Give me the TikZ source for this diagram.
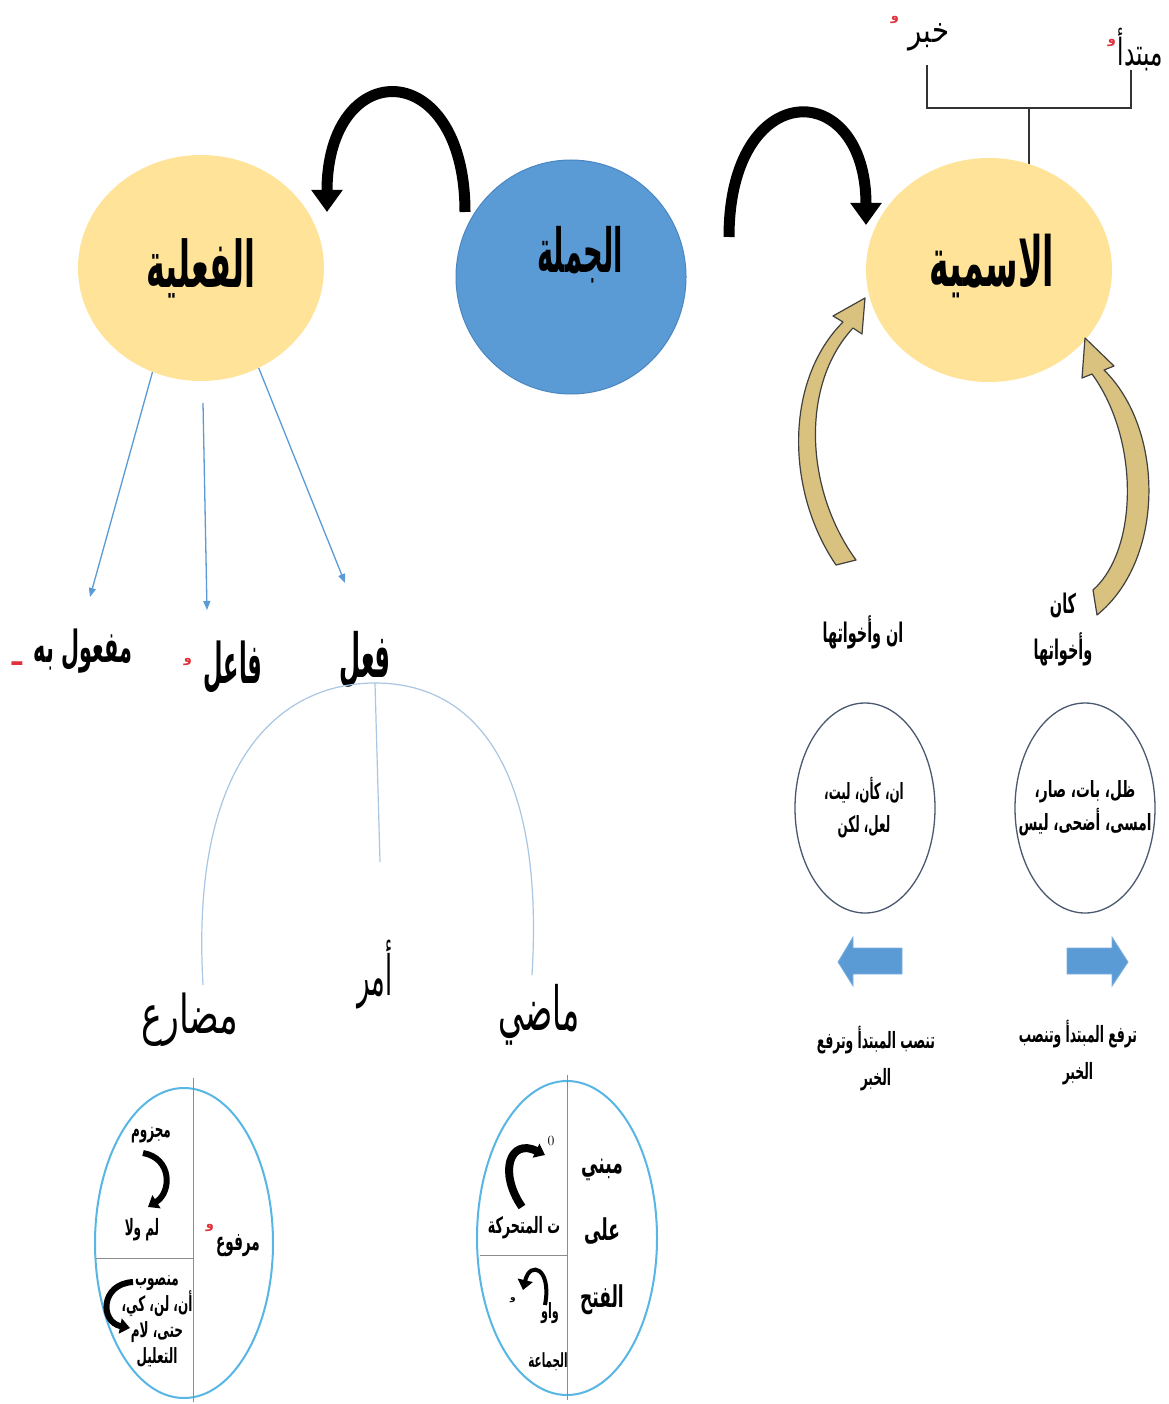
\documentclass[tikz,border=0pt]{standalone}
\usepackage{fontspec}
\usepackage{graphicx}
\usetikzlibrary{arrows.meta,shapes.geometric}
\newfontfamily\arabicfont[Script=Arabic]{DejaVu Sans}
\TeXXeTstate=1
\newcommand{\SQ}[3]{\scalebox{#1}[#2]{#3}}
\definecolor{yellowc}{HTML}{FEE398}
\definecolor{bluec}{HTML}{5B9BD5}
\definecolor{bluedark}{HTML}{4A86C2}
\definecolor{khaki}{HTML}{D9C27F}
\definecolor{treec}{HTML}{A9C6E2}
\definecolor{slatec}{HTML}{4A5870}
\definecolor{skyc}{HTML}{58B6E4}
\definecolor{redm}{HTML}{E0303A}
\tikzset{
  lbl/.style={inner sep=0pt, align=center, text=black},
  fhuge/.style={lbl, font=\arabicfont\bfseries\fontsize{46}{52}\selectfont},
  fbig/.style={lbl, font=\arabicfont\bfseries\fontsize{38}{44}\selectfont},
  fmid/.style={lbl, font=\arabicfont\fontsize{32}{38}\selectfont},
  fsm/.style={lbl, font=\arabicfont\fontsize{22}{26}\selectfont},
  fside/.style={lbl, font=\arabicfont\bfseries\fontsize{18}{46}\selectfont},
  fcirc/.style={lbl, font=\arabicfont\bfseries\fontsize{14}{33}\selectfont},
  fnote/.style={lbl, font=\arabicfont\bfseries\fontsize{15}{37}\selectfont},
  ftiny/.style={lbl, font=\arabicfont\bfseries\fontsize{15}{26}\selectfont},
  fmab/.style={lbl, font=\arabicfont\bfseries\fontsize{20}{67}\selectfont},
  redmark/.style={lbl, text=redm, font=\arabicfont\bfseries\fontsize{13}{14}\selectfont},
  blob/.style={ellipse, inner sep=0pt},
  bigarrow/.style={line width=11pt, -{Triangle[width=30pt,length=22pt]}},
  thinarrow/.style={draw=bluec, line width=1.3pt, -{Triangle[width=7pt,length=9pt]}},
  treeline/.style={draw=treec, line width=1.2pt},
  smallarrow/.style={line width=6pt, -{Triangle[width=15pt,length=10pt]}},
  khakiarrow/.style={fill=khaki, draw=black!75, line width=1.2pt, line join=round},
  blockarrow/.style={fill=bluec, draw=bluec!80!white, line width=0.8pt},
  brace/.style={draw=black!80, line width=2pt},
  divider/.style={draw=black!45, line width=1pt},
}
\begin{document}
\begin{tikzpicture}[x=1pt,y=-1pt]
\useasboundingbox (0,0) rectangle (1168,1404);
\fill[white] (0,0) rectangle (1168,1404);

% brace over the nominal sentence
\coordinate (bL) at (927,65);
\coordinate (bLd) at (927,108);
\coordinate (bR) at (1131,70);
\coordinate (bRd) at (1131,108);
\coordinate (bM) at (1029,108);
\coordinate (bS) at (1029,170);
\draw[brace] (bR) -- (bRd) -- (bLd) -- (bL);
\draw[brace] (bM) -- (bS);

% main ellipses
\node[blob, fill=yellowc, minimum width=246pt, minimum height=226pt] (fil) at (201,268) {};
\node[blob, fill=bluec, draw=bluedark, line width=1pt, minimum width=230pt, minimum height=234pt] (jum) at (571,277) {};
\node[blob, fill=yellowc, minimum width=246pt, minimum height=224pt] (ism) at (989,270) {};

\node[fhuge] (tfil) at (201,268) {\SQ{0.69}{1.4}{\beginR الفعلية\endR}};
\node[fbig] (tjum) at (580,255) {\SQ{0.72}{1.6}{\beginR الجملة\endR}};
\node[fhuge] (tism) at (992,266) {\SQ{0.72}{1.5}{\beginR الاسمية\endR}};

\node[fsm] (tmub) at (1140,50) {\SQ{1.05}{1.7}{\beginR مبتدأ\endR}};
\node[fsm] (tkhb) at (929,37) {\SQ{1.25}{1.6}{\beginR خبر\endR}};
\node[redmark] (rm1) at (1112,43) {\beginR و\endR};
\node[redmark] (rm2) at (895,20) {\beginR و\endR};

% big black arrows
\coordinate (a1s) at (465,212);
\coordinate (a1e) at (327,212);
\coordinate (a2s) at (729,237);
\coordinate (a2e) at (866,225);
\draw[bigarrow] (a1s) .. controls (465,55) and (327,55) .. (a1e);
\draw[bigarrow] (a2s) .. controls (729,76) and (866,76) .. (a2e);

% labels under the verbal sentence
\node[lbl, font=\arabicfont\bfseries\fontsize{26}{30}\selectfont] (tmaf) at (83,651) {\SQ{0.8}{1.7}{\beginR مفعول به\endR}};
\node[redmark, font=\arabicfont\bfseries\fontsize{30}{30}\selectfont] (rm3) at (17,664) {\beginR ـ\endR};
\node[lbl, font=\arabicfont\bfseries\fontsize{33}{38}\selectfont] (tfa) at (233,667) {\SQ{0.68}{1.7}{\beginR فاعل\endR}};
\node[redmark] (rm4) at (188,662) {\beginR و\endR};
\node[fbig] (tfl) at (365,660) {\SQ{0.64}{1.6}{\beginR فعل\endR}};

\coordinate (e1) at (90,597);
\coordinate (e2) at (207,610);
\coordinate (e3) at (345,583);
\coordinate (s2) at (203,403);
\draw[thinarrow] (fil.245) -- (e1);
\draw[thinarrow] (s2) -- (e2);
\draw[thinarrow] (fil.300) -- (e3);

% tree of the verb
\coordinate (tl) at (203,985);
\coordinate (tt) at (375,683);
\coordinate (tr) at (532,975);
\coordinate (tm) at (380,862);
\draw[treeline] (tl) .. controls (190,760) and (280,683) .. (tt) .. controls (470,683) and (545,760) .. (tr);
\draw[treeline] (tt) -- (tm);

\node[fmid] (tmud) at (190,1020) {\SQ{1.09}{1.67}{\beginR مضارع\endR}};
\node[lbl, font=\arabicfont\fontsize{30}{34}\selectfont] (tamr) at (375,975) {\SQ{0.85}{1.85}{\beginR أمر\endR}};
\node[fmid] (tmad) at (539,1015) {\SQ{1.0}{1.9}{\beginR ماضي\endR}};

% khaki curved arrows
\path[khakiarrow] (836,565) .. controls (785,490) and (785,380) .. (843,322) -- (833,316) -- (865,298) -- (862,334) -- (853,328) .. controls (800,385) and (805,490) .. (856,560) -- cycle;
\path[khakiarrow] (1104,370) .. controls (1165,430) and (1165,560) .. (1097,615) -- (1093,590) .. controls (1138,550) and (1140,440) .. (1092,374) -- (1082,378) -- (1085,338) -- (1114,366) -- cycle;

\node[fside] (tinn) at (863,632) {\SQ{0.8}{1.5}{\beginR ان وأخواتها\endR}};
\node[fside] (tkan) at (1063,630) {\SQ{0.8}{1.5}{\beginR كان\endR}\\\SQ{0.8}{1.5}{\beginR وأخواتها\endR}};

% circles on the right
\node[blob, draw=slatec, line width=1.3pt, minimum width=140pt, minimum height=210pt] (cinn) at (865,808) {};
\node[blob, draw=slatec, line width=1.3pt, minimum width=140pt, minimum height=210pt] (ckan) at (1085,808) {};
\node[fcirc] (tcinn) at (864,808) {\SQ{0.85}{1.6}{\beginR ان، كأن، ليت،\endR}\\\SQ{0.85}{1.6}{\beginR لعل، لكن\endR}};
\node[fcirc] (tckan) at (1085,808) {\SQ{0.98}{1.6}{\beginR ظل، بات، صار،\endR}\\\SQ{0.98}{1.6}{\beginR امسى، أضحى، ليس\endR}};

% blue block arrows
\path[blockarrow] (838,962) -- (853,937) -- (853,948) -- (902,948) -- (902,974) -- (853,974) -- (853,986) -- cycle;
\path[blockarrow] (1128,962) -- (1112,937) -- (1112,948) -- (1067,948) -- (1067,974) -- (1112,974) -- (1112,986) -- cycle;

\node[fnote] (tnsb) at (876,1059) {\SQ{0.82}{1.5}{\beginR تنصب المبتدأ وترفع\endR}\\\SQ{0.82}{1.5}{\beginR الخبر\endR}};
\node[fnote] (trfa) at (1078,1053) {\SQ{0.82}{1.5}{\beginR ترفع المبتدأ وتنصب\endR}\\\SQ{0.82}{1.5}{\beginR الخبر\endR}};

% present tense circle
\node[blob, draw=skyc, line width=2pt, minimum width=178pt, minimum height=310pt] (cmud) at (184,1243) {};
\coordinate (mv1) at (193,1078);
\coordinate (mv2) at (193,1402);
\coordinate (mh1) at (96,1258);
\coordinate (mh2) at (193,1258);
\draw[divider] (mv1) -- (mv2);
\draw[divider] (mh1) -- (mh2);
\node[ftiny] (tmaj) at (151,1135) {\SQ{0.8}{1.5}{\beginR مجزوم\endR}};
\coordinate (sa1) at (143,1153);
\coordinate (sa1e) at (148,1207);
\draw[smallarrow] (sa1) .. controls (172,1158) and (172,1192) .. (sa1e);
\node[ftiny] (tlam) at (142,1230) {\SQ{0.8}{1.5}{\beginR لم ولا\endR}};
\node[lbl, font=\arabicfont\bfseries\fontsize{17}{20}\selectfont] (tmarf) at (238,1246) {\SQ{0.8}{1.5}{\beginR مرفوع\endR}};
\node[redmark] (rm5) at (210,1228) {\beginR و\endR};
\node[ftiny] (tmans) at (157,1321) {\SQ{0.8}{1.4}{\beginR منصوب\endR}\\\SQ{0.8}{1.4}{\beginR أن، لن، كي،\endR}\\\SQ{0.8}{1.4}{\beginR حتى، لام\endR}\\\SQ{0.8}{1.4}{\beginR التعليل\endR}};
\coordinate (sa2) at (133,1282);
\coordinate (sa2e) at (130,1328);
\draw[smallarrow] (sa2) .. controls (100,1284) and (100,1322) .. (sa2e);

% past tense circle
\node[blob, draw=skyc, line width=2pt, minimum width=180pt, minimum height=314pt] (cmad) at (567,1238) {};
\coordinate (pv1) at (567,1075);
\coordinate (pv2) at (567,1400);
\coordinate (ph1) at (480,1255);
\coordinate (ph2) at (567,1255);
\draw[divider] (pv1) -- (pv2);
\draw[divider] (ph1) -- (ph2);
\node[fmab] (tmab) at (602,1237) {\SQ{0.85}{1.5}{\beginR مبني\endR}\\\SQ{0.85}{1.5}{\beginR على\endR}\\\SQ{0.85}{1.5}{\beginR الفتح\endR}};
\coordinate (pa1) at (522,1207);
\coordinate (pa1e) at (545,1155);
\draw[smallarrow, line width=8pt] (pa1) .. controls (498,1172) and (510,1138) .. (pa1e);
\node[lbl, font=\fontsize{14}{16}\selectfont] (tsuk) at (551,1141) {0};
\node[ftiny] (ttmt) at (524,1228) {\SQ{0.85}{1.5}{\beginR ت المتحركة\endR}};
\coordinate (pa2) at (545,1305);
\coordinate (pa2e) at (523,1290);
\draw[smallarrow, line width=4pt] (pa2) .. controls (552,1268) and (530,1260) .. (pa2e);
\node[lbl, font=\arabicfont\bfseries\fontsize{9}{10}\selectfont] (rm6) at (513,1300) {\beginR و\endR};
\node[lbl, font=\arabicfont\bfseries\fontsize{14}{16}\selectfont] (twaw) at (550,1313) {\SQ{0.8}{1.5}{\beginR واو\endR}};
\node[lbl, font=\arabicfont\bfseries\fontsize{13}{16}\selectfont] (tjam) at (548,1362) {\SQ{0.8}{1.5}{\beginR الجماعة\endR}};
\end{tikzpicture}
\end{document}
